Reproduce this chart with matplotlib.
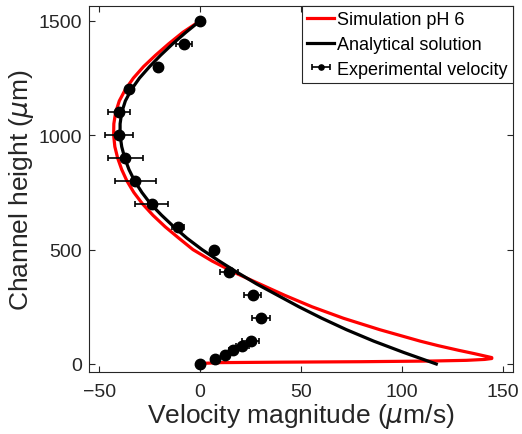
import matplotlib
matplotlib.use("Agg")
import matplotlib.pyplot as plt

plt.rcParams['font.family'] = ['Liberation Sans', 'DejaVu Sans']
plt.rcParams['mathtext.fontset'] = 'dejavusans'

# Simulation pH 6 (red)
sim_y = [1500, 1450, 1400, 1350, 1300, 1250, 1200, 1150, 1100, 1050, 1000, 950, 900,
         850, 800, 750, 700, 650, 600, 550, 500, 450, 400, 350, 300, 250, 200, 150,
         100, 80, 60, 45, 35, 28, 24, 20, 16, 13, 10, 8, 6, 3, 0]
sim_x = [0, -8.5, -15.5, -22, -28, -33, -37, -40, -41.8, -42.7, -42.8, -42.2, -40.8,
         -38.8, -36.2, -32.8, -28.5, -23.3, -17.3, -10.5, -3.5, 6, 17, 29.5, 42, 55.5, 71, 89,
         109, 118, 128, 136, 141, 144.5, 144.5, 141, 132, 115, 80, 40, 10, 2, 0]

# Analytical solution (black)
ana_y = [1500, 1450, 1400, 1350, 1300, 1250, 1200, 1150, 1100, 1050, 1000, 950, 900,
         850, 800, 750, 700, 650, 600, 550, 500, 450, 400, 350, 300, 250, 200, 150,
         100, 50, 0]
ana_x = [0, -7, -13.5, -19.5, -25, -30, -34, -37, -38.8, -39.6, -39.6, -38.8, -37.3,
         -35.2, -32.4, -28.8, -24.5, -19, -13, -6.5, 1, 9.5, 18.5, 28, 38.5, 49, 60.3, 72.5,
         86, 101, 117]

# Experimental velocity
exp_y = [1500, 1400, 1300, 1200, 1100, 1000, 900, 800, 700, 600, 500, 400, 300, 200,
         100, 80, 60, 40, 20, 0]
exp_x = [0, -8, -21, -35, -40, -40, -37, -32, -24, -11, 7, 14.5, 26, 30,
         25, 21, 16.5, 12.4, 7.6, 0]
exp_err = [0, 4, 0, 0, 5.5, 7, 8.5, 10, 8, 3, 0, 4.5, 4.3, 4.5,
           4, 3, 2, 1, 1, 0]

x_ticks = [-50, 0, 50, 100, 150]
y_ticks = [0, 500, 1000, 1500]

fig = plt.figure(figsize=(5.22, 4.35), dpi=100)
ax = fig.add_axes([89/522, 1-373/435, (513-89)/522, (373-7)/435])

ax.plot(sim_x, sim_y, color='#ff0000', lw=2.3, label='Simulation pH 6', zorder=2)
ax.plot(ana_x, ana_y, color='black', lw=2.3, label='Analytical solution', zorder=3)
ax.errorbar(exp_x, exp_y, xerr=exp_err, fmt='o', color='black', ms=7.5,
            elinewidth=1.2, capsize=2.5, capthick=1.2, label='Experimental velocity', zorder=4)

ax.set_xlim(-55, 155)
ax.set_ylim(-35, 1565)
ax.set_xticks(x_ticks)
ax.set_yticks(y_ticks)
ax.tick_params(direction='in', length=4, width=0.8, labelsize=14, colors='#262626',
               top=True, right=True, pad=5)
ax.tick_params(axis='x', pad=8)
for s in ax.spines.values():
    s.set_color('#262626')
    s.set_linewidth(0.8)

ax.set_xlabel(r'Velocity magnitude ($\mu$m/s)', fontsize=19, color='#262626', labelpad=1)
ax.set_ylabel(r'Channel height ($\mu$m)', fontsize=19, color='#262626', labelpad=2)

leg = ax.legend(loc='upper right', fontsize=13, frameon=True, fancybox=False,
                edgecolor='#262626', framealpha=1, borderaxespad=0,
                handlelength=1.5, handletextpad=0.15, borderpad=0.3, labelspacing=0.42,
                markerscale=0.5)
leg.get_frame().set_linewidth(0.8)

fig.savefig('out.png', dpi=100)
